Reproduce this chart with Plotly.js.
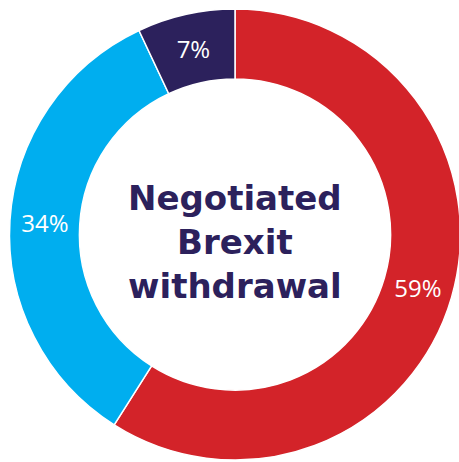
<!DOCTYPE html>
<html>
<head>
<meta charset="utf-8">
<script src="https://cdn.plot.ly/plotly-3.0.1.min.js"></script>
<style>
  html, body { margin: 0; padding: 0; overflow: hidden; background: #ffffff; }
  #chart { width: 470px; height: 462px; }
</style>
</head>
<body>
<div id="chart"></div>
<script>
const categories = ["Yes", "No", "Don't know"];
const shares = [59, 34, 7];
const sliceLabels = ["59%", "34%", "7%"];
const sliceColors = ["#D32329", "#00AEEF", "#2C215C"];
const centerTitle = "Negotiated<br>Brexit<br>withdrawal";

const data = [{
  type: "pie",
  labels: categories,
  values: shares,
  text: sliceLabels,
  textinfo: "text",
  hoverinfo: "label+percent",
  hole: 0.69,
  sort: false,
  direction: "clockwise",
  rotation: 0,
  domain: { x: [9 / 470, 461 / 470], y: [2 / 462, 453 / 462] },
  marker: { colors: sliceColors, line: { color: "#ffffff", width: 1.5 } },
  textposition: "inside",
  insidetextorientation: "horizontal",
  insidetextfont: { family: "Open Sans, sans-serif", size: 24, color: "#ffffff" },
  showlegend: false
}];

const layout = {
  width: 470,
  height: 462,
  margin: { l: 0, r: 0, t: 0, b: 0 },
  paper_bgcolor: "#ffffff",
  showlegend: false,
  annotations: [{
    text: "<b>" + centerTitle + "</b>",
    x: 235 / 470,
    y: 1 - 242 / 462,
    xref: "paper",
    yref: "paper",
    xanchor: "center",
    yanchor: "middle",
    showarrow: false,
    font: { family: "DejaVu Sans, sans-serif", size: 34, color: "#2C215C" }
  }]
};

Plotly.newPlot("chart", data, layout, { displayModeBar: false, staticPlot: true });
</script>
</body>
</html>
